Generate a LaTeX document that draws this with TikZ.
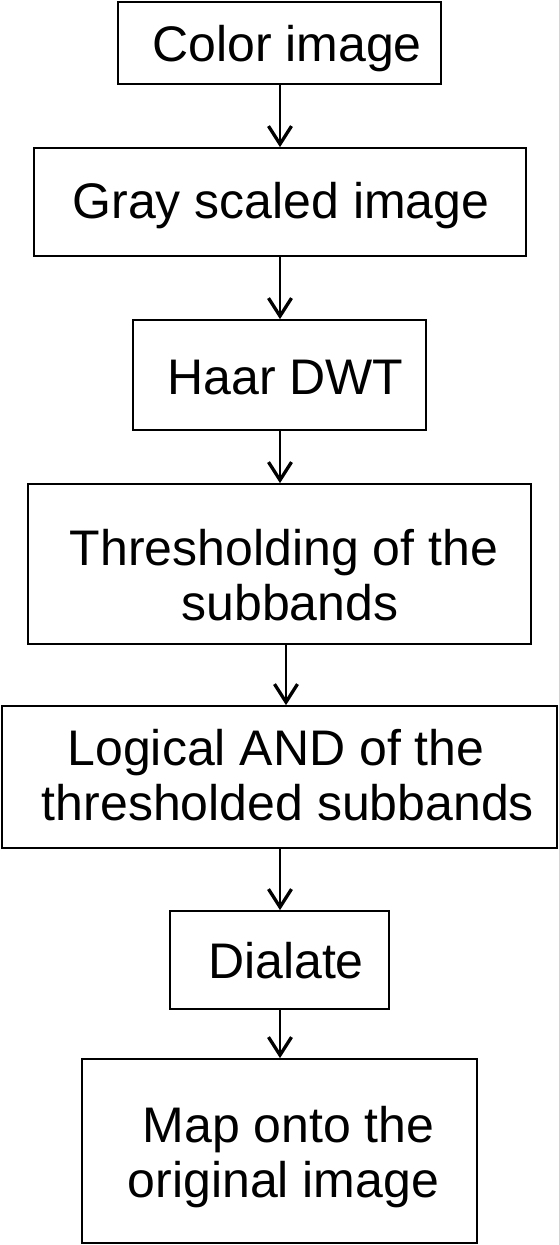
\documentclass[tikz,border=0pt]{standalone}
\usepackage{fontspec}
\setmainfont{Liberation Sans}
\usetikzlibrary{arrows.meta}
\begin{document}
\begin{tikzpicture}[x=1pt,y=-1pt,
  stepbox/.style={draw=black,line width=1.7pt,inner sep=0pt,fill=white},
  lbl/.style={anchor=base,inner sep=0pt,font=\fontsize{50}{57}\selectfont},
  flow/.style={draw=black,line width=1.7pt,-{Straight Barb[length=18pt,width=23pt,line width=3.3pt]}}]
\useasboundingbox (0,0) rectangle (559,1245);
% boxes
\node[stepbox,minimum width=323pt,minimum height=82pt] (b1) at (279.5,43) {};
\node[stepbox,minimum width=492pt,minimum height=108pt] (b2) at (280,202) {};
\node[stepbox,minimum width=293pt,minimum height=110pt] (b3) at (279.5,375) {};
\node[stepbox,minimum width=503pt,minimum height=160pt] (b4) at (279.5,564) {};
\node[stepbox,minimum width=555pt,minimum height=142pt] (b5) at (279.5,777) {};
\node[stepbox,minimum width=219pt,minimum height=98pt] (b6) at (279.5,960) {};
\node[stepbox,minimum width=395pt,minimum height=184pt] (b7) at (279.5,1151) {};
% texts
\node[lbl] (t1) at (287,61) {Color image};
\node[lbl] (t2) at (281,218) {Gray scaled image};
\node[lbl] (t3) at (285.5,394) {Haar DWT};
\node[lbl] (t4a) at (284,565) {Thresholding of the};
\node[lbl] (t4b) at (290,620) {subbands};
\node[lbl] (t5a) at (276,765) {Logical AND of the};
\node[lbl] (t5b) at (288,820) {thresholded subbands};
\node[lbl] (t6) at (286,978) {Dialate};
\node[lbl] (t7a) at (288.5,1142) {Map onto the};
\node[lbl] (t7b) at (283.5,1197) {original image};
% connectors
\draw[flow] (b1.south -| 280,0) -- (b2.north -| 280,0);
\draw[flow] (b2.south -| 280,0) -- (b3.north -| 280,0);
\draw[flow] (b3.south -| 280,0) -- (b4.north -| 280,0);
\draw[flow] (b4.south -| 286,0) -- (b5.north -| 286,0);
\draw[flow] (b5.south -| 280,0) -- (b6.north -| 280,0);
\draw[flow] (b6.south -| 280,0) -- (b7.north -| 280,0);
\end{tikzpicture}
\end{document}
